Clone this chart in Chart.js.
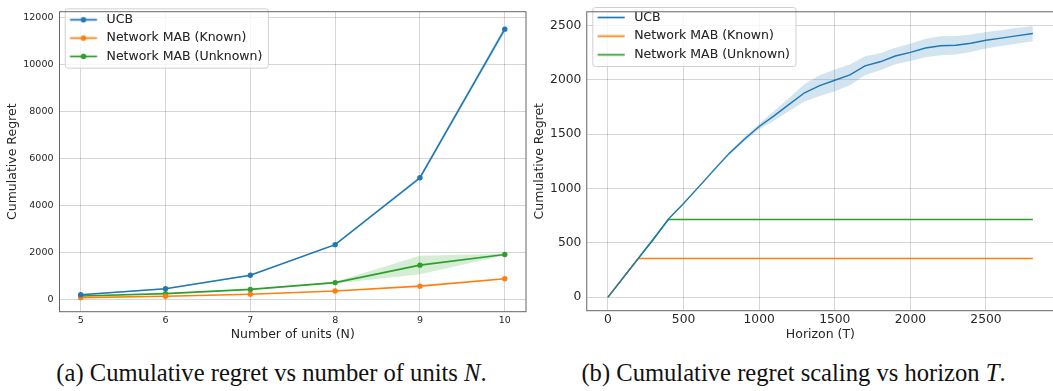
<!DOCTYPE html>
<html>
<head>
<meta charset="utf-8">
<script src="https://cdn.jsdelivr.net/npm/chart.js@4.4.0/dist/chart.umd.min.js"></script>
<style>
    body { margin: 0; width: 1053px; height: 391px; overflow: hidden; background: #fff; position: relative; }
    .box { position: absolute; }
    #unitsBox { left: 0; top: 0; width: 530px; height: 345px; }
    #horizonBox { left: 527px; top: -1px; width: 530px; height: 346px; }
    .caption {
        position: absolute; top: 361px; white-space: nowrap; transform: translateX(-50%);
        font-family: 'Liberation Serif', 'Times New Roman', serif; font-size: 24.6px; line-height: 24.6px; color: #111;
    }
</style>
</head>
<body>
<div class="box" id="unitsBox"><canvas id="unitsChart"></canvas></div>
<div class="box" id="horizonBox"><canvas id="horizonChart"></canvas></div>
<div class="caption" style="left: 271.5px;">(a) Cumulative regret vs number of units <i>N</i>.</div>
<div class="caption" style="left: 793.5px;">(b) Cumulative regret scaling vs horizon <i>T</i>.</div>

<script>
// ---- data: regret vs number of units ----
const unitCounts = [5, 6, 7, 8, 9, 10];
const ucbByUnits = [215, 470, 1040, 2340, 5180, 11490];
const ucbByUnitsSpread = [20, 25, 30, 40, 70, 130];
const knownByUnits = [90, 150, 235, 370, 578, 893];
const knownByUnitsSpread = [8, 10, 12, 15, 20, 25];
const unknownByUnits = [160, 262, 440, 728, 1469, 1922];
const unknownLowByUnits = [148, 245, 418, 690, 1086, 1895];
const unknownHighByUnits = [172, 280, 462, 766, 1868, 1950];
const unitsXTicks = [5, 6, 7, 8, 9, 10];
const unitsYTicks = [0, 2000, 4000, 6000, 8000, 10000, 12000];

// ---- data: regret vs horizon ----
const horizonSteps = [0, 100, 200, 300, 400, 500, 600, 700, 800, 900, 1000, 1100, 1200, 1300, 1400,
    1500, 1600, 1700, 1800, 1900, 2000, 2100, 2200, 2300, 2400, 2500, 2600, 2700, 2810];
const ucbByHorizon = [0, 177, 354, 530, 718, 862, 1014, 1168, 1320, 1450, 1570, 1670, 1775, 1880, 1945,
    1995, 2045, 2128, 2165, 2218, 2252, 2292, 2313, 2317, 2335, 2363, 2383, 2403, 2425];
const ucbByHorizonSpread = [0, 3, 4, 5, 6, 8, 10, 12, 15, 20, 25, 45, 60, 80, 95,
    100, 95, 88, 78, 75, 80, 85, 88, 85, 80, 75, 73, 72, 70];
const knownHorizon = [0, 200, 2810];
const knownByHorizon = [0, 355, 355];
const unknownHorizon = [0, 400, 2810];
const unknownByHorizon = [0, 714, 714];
const horizonXTicks = [0, 500, 1000, 1500, 2000, 2500];
const horizonYTicks = [0, 500, 1000, 1500, 2000, 2500];

const seriesNames = ['UCB', 'Network MAB (Known)', 'Network MAB (Unknown)'];
const seriesColors = ['#1f77b4', '#ff7f0e', '#2ca02c'];
const bandColors = ['rgba(31,119,180,0.2)', 'rgba(255,127,14,0.2)', 'rgba(44,160,44,0.2)'];

const FONT = "'DejaVu Sans', 'Liberation Sans', sans-serif";
const TEXT = '#262626';
const GRID = 'rgba(0,0,0,0.16)';

function points(xs, ys) {
    return xs.map((x, i) => ({ x: x, y: ys[i] }));
}

function legendHandle(color, withMarker) {
    const c = document.createElement('canvas');
    c.width = 35;
    c.height = 13;
    const g = c.getContext('2d');
    g.strokeStyle = color;
    g.lineWidth = 1.6;
    g.beginPath();
    g.moveTo(4.7, 6.5);
    g.lineTo(31.7, 6.5);
    g.stroke();
    if (withMarker) {
        g.fillStyle = color;
        g.beginPath();
        g.arc(18.2, 6.5, 2.7, 0, Math.PI * 2);
        g.fill();
    }
    return c;
}

// white rounded legend frame, then the legend again on top of it
const legendFrame = {
    id: 'legendFrame',
    beforeDatasetsDraw(chart, args, opts) {
        const boxes = chart.legend && chart.legend.legendHitBoxes;
        if (!boxes || !boxes.length) return;
        const left = Math.min(...boxes.map(b => b.left)) - 0.1;
        const top = Math.min(...boxes.map(b => b.top)) - opts.top;
        const right = Math.max(...boxes.map(b => b.left + b.width)) + 6;
        const bottom = Math.max(...boxes.map(b => b.top + b.height)) + 5.5;
        const ctx = chart.ctx;
        ctx.save();
        ctx.beginPath();
        ctx.roundRect(left, top, right - left, bottom - top, 2.5);
        ctx.fillStyle = 'rgba(255,255,255,0.8)';
        ctx.fill();
        ctx.lineWidth = 1;
        ctx.strokeStyle = '#d0d0d0';
        ctx.stroke();
        ctx.restore();
        chart.legend.draw();
    }
};

// full box round the plot, like matplotlib spines
const plotFrame = {
    id: 'plotFrame',
    afterDatasetsDraw(chart) {
        const a = chart.chartArea;
        const ctx = chart.ctx;
        ctx.save();
        ctx.strokeStyle = '#666';
        ctx.lineWidth = 1;
        ctx.strokeRect(a.left, a.top, a.right - a.left, a.bottom - a.top);
        ctx.restore();
    }
};

function bandPair(xs, hi, lo, color) {
    return [
        { isBand: true, data: points(xs, hi), borderWidth: 0, pointRadius: 0, fill: '+1', backgroundColor: color },
        { isBand: true, data: points(xs, lo), borderWidth: 0, pointRadius: 0, fill: false }
    ];
}

function buildChart(canvasId, cfg) {
    const handles = seriesColors.map(c => legendHandle(c, cfg.markers));
    return new Chart(document.getElementById(canvasId), {
        type: 'line',
        data: { datasets: cfg.datasets },
        options: {
            responsive: true,
            maintainAspectRatio: false,
            animation: false,
            layout: { padding: cfg.padding },
            scales: {
                x: {
                    type: 'linear',
                    min: cfg.xMin,
                    max: cfg.xMax,
                    afterFit: s => { s.height = cfg.xHeight; },
                    afterBuildTicks: s => { s.ticks = cfg.xTicks.map(v => ({ value: v })); },
                    border: { display: false },
                    grid: { color: GRID, lineWidth: 1, drawTicks: false },
                    ticks: {
                        color: TEXT, padding: cfg.xTickPad, autoSkip: false,
                        font: { family: FONT, size: cfg.tickSize }, maxRotation: 0,
                        callback: v => String(v)
                    },
                    title: {
                        display: true, text: cfg.xTitle, color: TEXT,
                        font: { family: FONT, size: 12.5 }, padding: { top: 0, bottom: 2.5 }
                    }
                },
                y: {
                    min: cfg.yMin,
                    max: cfg.yMax,
                    afterFit: s => { s.width = cfg.yWidth; },
                    afterBuildTicks: s => { s.ticks = cfg.yTicks.map(v => ({ value: v })); },
                    border: { display: false },
                    grid: { color: GRID, lineWidth: 1, drawTicks: false },
                    ticks: {
                        color: TEXT, padding: cfg.yTickPad, autoSkip: false,
                        font: { family: FONT, size: cfg.tickSize },
                        callback: v => String(v)
                    },
                    title: {
                        display: true, text: 'Cumulative Regret', color: TEXT,
                        font: { family: FONT, size: 12.5 }, padding: { top: 5.5, bottom: 0 }
                    }
                }
            },
            plugins: {
                tooltip: { enabled: false },
                legendFrame: { top: cfg.frameTop },
                legend: {
                    position: 'chartArea',
                    align: 'start',
                    title: { display: true, text: '', font: { size: 1, lineHeight: 1 }, padding: { top: cfg.legendTop - 1, bottom: 0 } },
                    labels: {
                        usePointStyle: true,
                        pointStyleWidth: 35,
                        padding: cfg.legendPad,
                        color: TEXT,
                        font: { family: FONT, size: 12.5 },
                        generateLabels: function(chart) {
                            const items = Chart.defaults.plugins.legend.labels.generateLabels(chart);
                            return items
                                .filter(it => !chart.data.datasets[it.datasetIndex].isBand)
                                .map((it, i) => Object.assign(it, { pointStyle: handles[i] }));
                        }
                    }
                }
            }
        },
        plugins: [legendFrame, plotFrame]
    });
}

buildChart('unitsChart', {
    markers: true,
    padding: { left: 0, top: 2.7, right: 2.7, bottom: 0 },
    xMin: 4.75, xMax: 10.25, xTicks: unitsXTicks, xHeight: 33.3, xTickPad: 3,
    yMin: -507, yMax: 12231, yTicks: unitsYTicks, yWidth: 59.5, yTickPad: 6,
    tickSize: 9.5,
    xTitle: 'Number of units (N)',
    legendTop: 7.75, legendPad: 5.8, frameTop: 4.7,
    datasets: [
        { label: seriesNames[0], data: points(unitCounts, ucbByUnits), borderColor: seriesColors[0], backgroundColor: seriesColors[0],
          borderWidth: 1.6, pointRadius: 2.7, pointBorderWidth: 0, fill: false },
        { label: seriesNames[1], data: points(unitCounts, knownByUnits), borderColor: seriesColors[1], backgroundColor: seriesColors[1],
          borderWidth: 1.6, pointRadius: 2.7, pointBorderWidth: 0, fill: false },
        { label: seriesNames[2], data: points(unitCounts, unknownByUnits), borderColor: seriesColors[2], backgroundColor: seriesColors[2],
          borderWidth: 1.6, pointRadius: 2.7, pointBorderWidth: 0, fill: false },
        ...bandPair(unitCounts, ucbByUnits.map((v, i) => v + ucbByUnitsSpread[i]), ucbByUnits.map((v, i) => v - ucbByUnitsSpread[i]), bandColors[0]),
        ...bandPair(unitCounts, knownByUnits.map((v, i) => v + knownByUnitsSpread[i]), knownByUnits.map((v, i) => v - knownByUnitsSpread[i]), bandColors[1]),
        ...bandPair(unitCounts, unknownHighByUnits, unknownLowByUnits, bandColors[2])
    ]
});

buildChart('horizonChart', {
    markers: false,
    padding: { left: 0, top: 0.6, right: 2.9, bottom: 0 },
    xMin: -140.5, xMax: 2950.5, xTicks: horizonXTicks, xHeight: 34.3, xTickPad: 2,
    yMin: -125, yMax: 2625, yTicks: horizonYTicks, yWidth: 59.75, yTickPad: 5.4,
    tickSize: 12.3,
    xTitle: 'Horizon (T)',
    legendTop: 6.1, legendPad: 6.15, frameTop: 3.75,
    datasets: [
        { label: seriesNames[0], data: points(horizonSteps, ucbByHorizon), borderColor: seriesColors[0], backgroundColor: seriesColors[0],
          borderWidth: 1.4, pointRadius: 0, fill: false },
        { label: seriesNames[1], data: points(knownHorizon, knownByHorizon), borderColor: seriesColors[1], backgroundColor: seriesColors[1],
          borderWidth: 1.4, pointRadius: 0, fill: false },
        { label: seriesNames[2], data: points(unknownHorizon, unknownByHorizon), borderColor: seriesColors[2], backgroundColor: seriesColors[2],
          borderWidth: 1.4, pointRadius: 0, fill: false },
        ...bandPair(horizonSteps, ucbByHorizon.map((v, i) => v + ucbByHorizonSpread[i]), ucbByHorizon.map((v, i) => v - ucbByHorizonSpread[i]), bandColors[0])
    ]
});
</script>
</body>
</html>
